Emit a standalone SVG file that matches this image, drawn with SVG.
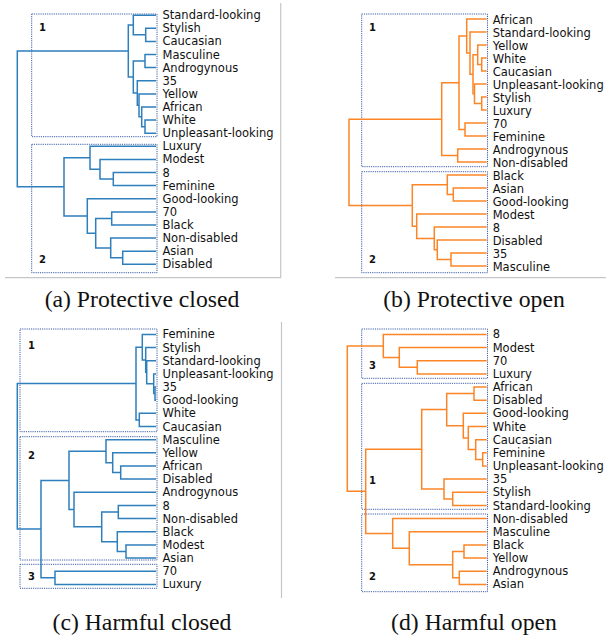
<svg xmlns="http://www.w3.org/2000/svg" width="606" height="639" viewBox="0 0 606 639">
<style>
.lbl{font-family:"DejaVu Sans",sans-serif;font-size:11.5px;fill:#111}
.num{font-family:"DejaVu Sans",sans-serif;font-size:10px;font-weight:bold;fill:#111}
.cap{font-family:"Liberation Serif","Times New Roman",serif;font-size:23.7px;fill:#111;text-anchor:middle}
.box{fill:none;stroke:#3f5fa8;stroke-width:1;stroke-dasharray:1.2 1}
.blue{fill:none;stroke:#2f7fbd;stroke-width:1.5}
.orange{fill:none;stroke:#fb8527;stroke-width:1.5}
.frame{fill:none;stroke:#c6c6c6;stroke-width:1.2}
</style>
<g id="frames">
<path class="frame" d="M5 277.7 H281 M280.7 3 V277.7"/>
<path class="frame" d="M335 277.7 H606"/>
<path class="frame" d="M281.5 322 V598"/>
</g>

<!-- Panel (a) -->
<g id="panel-a">
<g id="a-clusters">
<rect class="box" x="31.7" y="14" width="125.3" height="122.7"/>
<rect class="box" x="31.7" y="144.3" width="125.3" height="128.4"/>
<text class="num" x="39" y="30.7">1</text>
<text class="num" x="39" y="262.7">2</text>
</g>
<g id="a-connectors" class="blue">
<path d="M156 28.3 H145.7 V41.4 H156"/>
<path d="M156 15.2 H133.3 V34.85 H145.7"/>
<path d="M156 54.5 H145 V67.6 H156"/>
<path d="M156 120.1 H145 V133.2 H156"/>
<path d="M156 107 H141.7 V126.65 H145"/>
<path d="M156 93.9 H139 V116.8 H141.7"/>
<path d="M156 80.8 H137.3 V105.35 H139"/>
<path d="M145 61.05 H133.3 V93.1 H137.3"/>
<path d="M133.3 25 H128.3 V77.1 H133.3"/>
<path d="M156 172.5 H113.3 V185.6 H156"/>
<path d="M156 159.4 H100 V179.05 H113.3"/>
<path d="M156 146.3 H90 V169.2 H100"/>
<path d="M156 211.9 H111.7 V225 H156"/>
<path d="M156 251.2 H122.7 V264.3 H156"/>
<path d="M156 238.1 H110.7 V257.75 H122.7"/>
<path d="M111.7 218.45 H95.7 V247.9 H110.7"/>
<path d="M156 198.7 H87.3 V233.2 H95.7"/>
<path d="M90 157.75 H64 V215.95 H87.3"/>
<path d="M128.3 51.05 H17.3 V186.85 H64"/>
</g>
<g id="a-leaves" class="lbl">
<text id="a-standard-looking" x="162.5" y="19.2">Standard-looking</text>
<text id="a-stylish" x="162.5" y="32.3">Stylish</text>
<text id="a-caucasian" x="162.5" y="45.4">Caucasian</text>
<text id="a-masculine" x="162.5" y="58.5">Masculine</text>
<text id="a-androgynous" x="162.5" y="71.6">Androgynous</text>
<text id="a-35" x="162.5" y="84.8">35</text>
<text id="a-yellow" x="162.5" y="97.9">Yellow</text>
<text id="a-african" x="162.5" y="111">African</text>
<text id="a-white" x="162.5" y="124.1">White</text>
<text id="a-unpleasant-looking" x="162.5" y="137.2">Unpleasant-looking</text>
<text id="a-luxury" x="162.5" y="150.3">Luxury</text>
<text id="a-modest" x="162.5" y="163.4">Modest</text>
<text id="a-8" x="162.5" y="176.5">8</text>
<text id="a-feminine" x="162.5" y="189.6">Feminine</text>
<text id="a-good-looking" x="162.5" y="202.7">Good-looking</text>
<text id="a-70" x="162.5" y="215.9">70</text>
<text id="a-black" x="162.5" y="229">Black</text>
<text id="a-non-disabled" x="162.5" y="242.1">Non-disabled</text>
<text id="a-asian" x="162.5" y="255.2">Asian</text>
<text id="a-disabled" x="162.5" y="268.3">Disabled</text>
</g>
<text class="cap" x="142" y="307">(a) Protective closed</text>
</g>

<!-- Panel (b) -->
<g id="panel-b">
<g id="b-clusters">
<rect class="box" x="361.7" y="14" width="125.8" height="152.7"/>
<rect class="box" x="361.7" y="171.7" width="125.8" height="101"/>
<text class="num" x="369" y="30.7">1</text>
<text class="num" x="369" y="262.7">2</text>
</g>
<g id="b-connectors" class="orange">
<path d="M486.7 97 H481.7 V110 H486.7"/>
<path d="M486.7 84 H474.5 V103.5 H481.7"/>
<path d="M486.7 58 H481.7 V71 H486.7"/>
<path d="M486.7 45 H477.7 V64.5 H481.7"/>
<path d="M477.7 54.75 H473 V93.75 H474.5"/>
<path d="M486.7 32 H470 V74.25 H473"/>
<path d="M486.7 19 H466.7 V53.1 H470"/>
<path d="M486.7 123 H465 V136 H486.7"/>
<path d="M466.7 36.05 H459 V129.5 H465"/>
<path d="M486.7 149 H457.7 V162 H486.7"/>
<path d="M459 82.8 H441.7 V155.5 H457.7"/>
<path d="M486.7 188 H453.3 V201 H486.7"/>
<path d="M486.7 175 H447.3 V194.5 H453.3"/>
<path d="M486.7 253 H451 V266 H486.7"/>
<path d="M486.7 240 H437.3 V259.5 H451"/>
<path d="M486.7 227 H434.3 V249.75 H437.3"/>
<path d="M486.7 214 H416.7 V238.4 H434.3"/>
<path d="M447.3 184.75 H412.3 V226.2 H416.7"/>
<path d="M441.7 119.15 H349 V205.5 H412.3"/>
</g>
<g id="b-leaves" class="lbl">
<text id="b-african" x="492.7" y="23.5">African</text>
<text id="b-standard-looking" x="492.7" y="36.5">Standard-looking</text>
<text id="b-yellow" x="492.7" y="49.5">Yellow</text>
<text id="b-white" x="492.7" y="62.5">White</text>
<text id="b-caucasian" x="492.7" y="75.5">Caucasian</text>
<text id="b-unpleasant-looking" x="492.7" y="88.5">Unpleasant-looking</text>
<text id="b-stylish" x="492.7" y="101.5">Stylish</text>
<text id="b-luxury" x="492.7" y="114.5">Luxury</text>
<text id="b-70" x="492.7" y="127.5">70</text>
<text id="b-feminine" x="492.7" y="140.5">Feminine</text>
<text id="b-androgynous" x="492.7" y="153.5">Androgynous</text>
<text id="b-non-disabled" x="492.7" y="166.5">Non-disabled</text>
<text id="b-black" x="492.7" y="179.5">Black</text>
<text id="b-asian" x="492.7" y="192.5">Asian</text>
<text id="b-good-looking" x="492.7" y="205.5">Good-looking</text>
<text id="b-modest" x="492.7" y="218.5">Modest</text>
<text id="b-8" x="492.7" y="231.5">8</text>
<text id="b-disabled" x="492.7" y="244.5">Disabled</text>
<text id="b-35" x="492.7" y="257.5">35</text>
<text id="b-masculine" x="492.7" y="270.5">Masculine</text>
</g>
<text class="cap" x="474" y="307">(b) Protective open</text>
</g>

<!-- Panel (c) -->
<g id="panel-c">
<g id="c-clusters">
<rect class="box" x="20" y="329" width="137" height="102.7"/>
<rect class="box" x="20" y="436.7" width="137" height="123.3"/>
<rect class="box" x="20" y="564.3" width="137" height="24"/>
<text class="num" x="28" y="349.3">1</text>
<text class="num" x="28" y="459.3">2</text>
<text class="num" x="28" y="580">3</text>
</g>
<g id="c-connectors" class="blue">
<path d="M156 387 H155 V400.2 H156"/>
<path d="M156 373.9 H153.7 V393.6 H155"/>
<path d="M156 360.7 H146.7 V383.75 H153.7"/>
<path d="M156 347.6 H145.7 V372.2 H146.7"/>
<path d="M156 334.4 H142.3 V359.9 H145.7"/>
<path d="M156 413.3 H139.3 V426.5 H156"/>
<path d="M142.3 347.15 H136 V419.9 H139.3"/>
<path d="M156 466 H120.7 V479.1 H156"/>
<path d="M156 452.8 H112.7 V472.55 H120.7"/>
<path d="M156 439.7 H106 V462.7 H112.7"/>
<path d="M156 505.5 H118.3 V518.6 H156"/>
<path d="M156 544.9 H126 V558.1 H156"/>
<path d="M156 531.8 H117.3 V551.5 H126"/>
<path d="M118.3 512.05 H101.7 V541.65 H117.3"/>
<path d="M156 492.3 H74 V526.85 H101.7"/>
<path d="M106 451.2 H69 V509.6 H74"/>
<path d="M156 571.2 H55 V584.4 H156"/>
<path d="M69 480.4 H41 V577.8 H55"/>
<path d="M136 383.5 H17.3 V529.1 H41"/>
</g>
<g id="c-leaves" class="lbl">
<text id="c-feminine" x="162.5" y="338.4">Feminine</text>
<text id="c-stylish" x="162.5" y="351.6">Stylish</text>
<text id="c-standard-looking" x="162.5" y="364.7">Standard-looking</text>
<text id="c-unpleasant-looking" x="162.5" y="377.9">Unpleasant-looking</text>
<text id="c-35" x="162.5" y="391">35</text>
<text id="c-good-looking" x="162.5" y="404.2">Good-looking</text>
<text id="c-white" x="162.5" y="417.3">White</text>
<text id="c-caucasian" x="162.5" y="430.5">Caucasian</text>
<text id="c-masculine" x="162.5" y="443.7">Masculine</text>
<text id="c-yellow" x="162.5" y="456.8">Yellow</text>
<text id="c-african" x="162.5" y="470">African</text>
<text id="c-disabled" x="162.5" y="483.1">Disabled</text>
<text id="c-androgynous" x="162.5" y="496.3">Androgynous</text>
<text id="c-8" x="162.5" y="509.5">8</text>
<text id="c-non-disabled" x="162.5" y="522.6">Non-disabled</text>
<text id="c-black" x="162.5" y="535.8">Black</text>
<text id="c-modest" x="162.5" y="548.9">Modest</text>
<text id="c-asian" x="162.5" y="562.1">Asian</text>
<text id="c-70" x="162.5" y="575.2">70</text>
<text id="c-luxury" x="162.5" y="588.4">Luxury</text>
</g>
<text class="cap" x="142" y="630">(c) Harmful closed</text>
</g>

<!-- Panel (d) -->
<g id="panel-d">
<g id="d-clusters">
<rect class="box" x="361.7" y="329" width="125.8" height="49.3"/>
<rect class="box" x="361.7" y="383.3" width="125.8" height="126"/>
<rect class="box" x="361.7" y="514" width="125.8" height="77.7"/>
<text class="num" x="369" y="368.7">3</text>
<text class="num" x="369" y="484.3">1</text>
<text class="num" x="369" y="580">2</text>
</g>
<g id="d-connectors" class="orange">
<path d="M486.7 360.7 H417.3 V373.9 H486.7"/>
<path d="M486.7 347.6 H399.3 V367.3 H417.3"/>
<path d="M486.7 334.4 H383.3 V357.45 H399.3"/>
<path d="M486.7 387 H474 V400.2 H486.7"/>
<path d="M486.7 452.8 H482.7 V466 H486.7"/>
<path d="M486.7 439.7 H475.7 V459.4 H482.7"/>
<path d="M486.7 426.5 H468.3 V449.55 H475.7"/>
<path d="M486.7 413.3 H463.3 V438 H468.3"/>
<path d="M474 393.6 H446.7 V425.65 H463.3"/>
<path d="M486.7 492.3 H452.7 V505.5 H486.7"/>
<path d="M486.7 479.1 H444 V498.9 H452.7"/>
<path d="M446.7 409.6 H421.7 V489 H444"/>
<path d="M486.7 544.9 H464 V558.1 H486.7"/>
<path d="M486.7 571.2 H459.3 V584.4 H486.7"/>
<path d="M464 551.5 H452.7 V577.8 H459.3"/>
<path d="M486.7 531.8 H409.3 V564.65 H452.7"/>
<path d="M486.7 518.6 H392.7 V548.2 H409.3"/>
<path d="M421.7 449.3 H365.7 V533.4 H392.7"/>
<path d="M383.3 345.9 H347.3 V491.35 H365.7"/>
</g>
<g id="d-leaves" class="lbl">
<text id="d-8" x="492.7" y="338.4">8</text>
<text id="d-modest" x="492.7" y="351.6">Modest</text>
<text id="d-70" x="492.7" y="364.7">70</text>
<text id="d-luxury" x="492.7" y="377.9">Luxury</text>
<text id="d-african" x="492.7" y="391">African</text>
<text id="d-disabled" x="492.7" y="404.2">Disabled</text>
<text id="d-good-looking" x="492.7" y="417.3">Good-looking</text>
<text id="d-white" x="492.7" y="430.5">White</text>
<text id="d-caucasian" x="492.7" y="443.7">Caucasian</text>
<text id="d-feminine" x="492.7" y="456.8">Feminine</text>
<text id="d-unpleasant-looking" x="492.7" y="470">Unpleasant-looking</text>
<text id="d-35" x="492.7" y="483.1">35</text>
<text id="d-stylish" x="492.7" y="496.3">Stylish</text>
<text id="d-standard-looking" x="492.7" y="509.5">Standard-looking</text>
<text id="d-non-disabled" x="492.7" y="522.6">Non-disabled</text>
<text id="d-masculine" x="492.7" y="535.8">Masculine</text>
<text id="d-black" x="492.7" y="548.9">Black</text>
<text id="d-yellow" x="492.7" y="562.1">Yellow</text>
<text id="d-androgynous" x="492.7" y="575.2">Androgynous</text>
<text id="d-asian" x="492.7" y="588.4">Asian</text>
</g>
<text class="cap" x="474" y="630">(d) Harmful open</text>
</g>
</svg>
